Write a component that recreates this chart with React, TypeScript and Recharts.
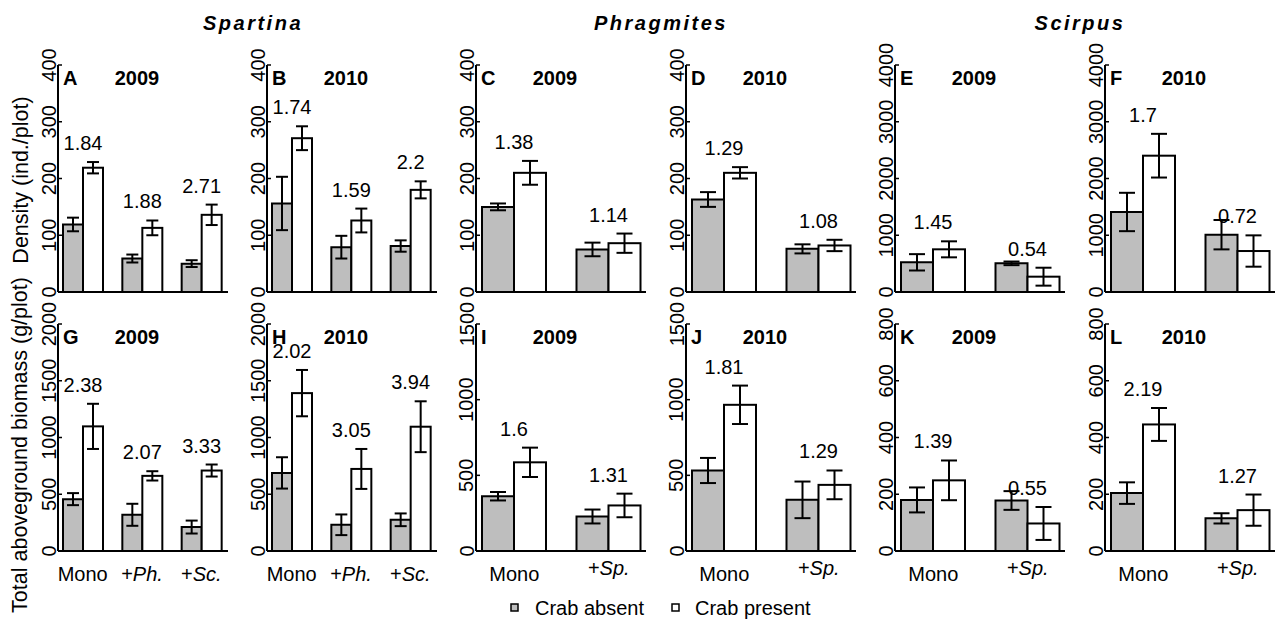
import React from "react";
import { BarChart, Bar, XAxis, YAxis, ErrorBar } from "recharts";

const FONT = "'Liberation Sans', Arial, Helvetica, sans-serif";

// ---------- categories ----------
const spartinaGroups = ["Mono", "+Ph.", "+Sc."];
const otherGroups = ["Mono", "+Sp."];

// ---------- tick labels ----------
const ticks400 = [0, 100, 200, 300, 400];
const ticks4000 = [0, 1000, 2000, 3000, 4000];
const ticks2000 = [0, 500, 1000, 1500, 2000];
const ticks1500 = [0, 500, 1000, 1500];
const ticks800 = [0, 200, 400, 600, 800];

// ---------- Density (top row) ----------
// A: Spartina 2009
const aAbsent = [119, 59, 50];
const aAbsentSE = [12, 7, 6];
const aPresent = [219, 113, 136];
const aPresentSE = [10, 13, 18];
const aRatio = ["1.84", "1.88", "2.71"];
// B: Spartina 2010
const bAbsent = [156, 79, 81];
const bAbsentSE = [47, 20, 10];
const bPresent = [271, 126, 180];
const bPresentSE = [21, 21, 15];
const bRatio = ["1.74", "1.59", "2.2"];
// C: Phragmites 2009
const cAbsent = [150, 75];
const cAbsentSE = [6, 12];
const cPresent = [210, 86];
const cPresentSE = [21, 17];
const cRatio = ["1.38", "1.14"];
// D: Phragmites 2010
const dAbsent = [163, 76];
const dAbsentSE = [13, 8];
const dPresent = [210, 82];
const dPresentSE = [10, 10];
const dRatio = ["1.29", "1.08"];
// E: Scirpus 2009
const eAbsent = [523, 505];
const eAbsentSE = [144, 32];
const ePresent = [752, 270];
const ePresentSE = [141, 158];
const eRatio = ["1.45", "0.54"];
// F: Scirpus 2010
const fAbsent = [1410, 1010];
const fAbsentSE = [338, 259];
const fPresent = [2402, 722];
const fPresentSE = [385, 276];
const fRatio = ["1.7", "0.72"];

// ---------- Biomass (bottom row) ----------
// G: Spartina 2009
const gAbsent = [457, 319, 211];
const gAbsentSE = [53, 97, 57];
const gPresent = [1098, 662, 709];
const gPresentSE = [199, 41, 53];
const gRatio = ["2.38", "2.07", "3.33"];
// H: Spartina 2010
const hAbsent = [688, 231, 275];
const hAbsentSE = [138, 91, 56];
const hPresent = [1391, 723, 1095];
const hPresentSE = [204, 176, 224];
const hRatio = ["2.02", "3.05", "3.94"];
// I: Phragmites 2009
const iAbsent = [362, 228];
const iAbsentSE = [28, 46];
const iPresent = [586, 301];
const iPresentSE = [97, 78];
const iRatio = ["1.6", "1.31"];
// J: Phragmites 2010
const jAbsent = [532, 338];
const jAbsentSE = [83, 121];
const jPresent = [966, 437];
const jPresentSE = [127, 95];
const jRatio = ["1.81", "1.29"];
// K: Scirpus 2009
const kAbsent = [180, 178];
const kAbsentSE = [44, 33];
const kPresent = [249, 97];
const kPresentSE = [70, 58];
const kRatio = ["1.39", "0.55"];
// L: Scirpus 2010
const lAbsent = [204, 115];
const lAbsentSE = [38, 18];
const lPresent = [446, 144];
const lPresentSE = [58, 55];
const lRatio = ["2.19", "1.27"];

const panelLetters = ["A", "B", "C", "D", "E", "F", "G", "H", "I", "J", "K", "L"];
const panelYears = ["2009", "2010", "2009", "2010", "2009", "2010", "2009", "2010", "2009", "2010", "2009", "2010"];
const speciesTitles = ["Spartina", "Phragmites", "Scirpus"];
const legendLabels = ["Crab absent", "Crab present"];

// ---------- layout ----------
const COL_LEFTS = [58, 267, 476, 686, 895, 1105];
const ROW_TOPS = [65, 324];
const BOX_W = 170;
const BOX_H = 227;
const ML = 50;
const MT = 22;
const MR = 6;
const MB = 50;
const CW = ML + BOX_W + MR;
const CH = MT + BOX_H + MB;
const AX = { stroke: "#000", strokeWidth: 2 };
const GREY = "#bebebe";
const Y_TICK_MARGIN = 2.5;

type Cfg = {
  groups: string[];
  absent: number[];
  absentSE: number[];
  present: number[];
  presentSE: number[];
  ratio: string[];
  ticks: number[];
  col: number;
  row: number;
};

const panels: Cfg[] = [
  { groups: spartinaGroups, absent: aAbsent, absentSE: aAbsentSE, present: aPresent, presentSE: aPresentSE, ratio: aRatio, ticks: ticks400, col: 0, row: 0 },
  { groups: spartinaGroups, absent: bAbsent, absentSE: bAbsentSE, present: bPresent, presentSE: bPresentSE, ratio: bRatio, ticks: ticks400, col: 1, row: 0 },
  { groups: otherGroups, absent: cAbsent, absentSE: cAbsentSE, present: cPresent, presentSE: cPresentSE, ratio: cRatio, ticks: ticks400, col: 2, row: 0 },
  { groups: otherGroups, absent: dAbsent, absentSE: dAbsentSE, present: dPresent, presentSE: dPresentSE, ratio: dRatio, ticks: ticks400, col: 3, row: 0 },
  { groups: otherGroups, absent: eAbsent, absentSE: eAbsentSE, present: ePresent, presentSE: ePresentSE, ratio: eRatio, ticks: ticks4000, col: 4, row: 0 },
  { groups: otherGroups, absent: fAbsent, absentSE: fAbsentSE, present: fPresent, presentSE: fPresentSE, ratio: fRatio, ticks: ticks4000, col: 5, row: 0 },
  { groups: spartinaGroups, absent: gAbsent, absentSE: gAbsentSE, present: gPresent, presentSE: gPresentSE, ratio: gRatio, ticks: ticks2000, col: 0, row: 1 },
  { groups: spartinaGroups, absent: hAbsent, absentSE: hAbsentSE, present: hPresent, presentSE: hPresentSE, ratio: hRatio, ticks: ticks2000, col: 1, row: 1 },
  { groups: otherGroups, absent: iAbsent, absentSE: iAbsentSE, present: iPresent, presentSE: iPresentSE, ratio: iRatio, ticks: ticks1500, col: 2, row: 1 },
  { groups: otherGroups, absent: jAbsent, absentSE: jAbsentSE, present: jPresent, presentSE: jPresentSE, ratio: jRatio, ticks: ticks1500, col: 3, row: 1 },
  { groups: otherGroups, absent: kAbsent, absentSE: kAbsentSE, present: kPresent, presentSE: kPresentSE, ratio: kRatio, ticks: ticks800, col: 4, row: 1 },
  { groups: otherGroups, absent: lAbsent, absentSE: lAbsentSE, present: lPresent, presentSE: lPresentSE, ratio: lRatio, ticks: ticks800, col: 5, row: 1 },
];

const YTick = (p: any) => {
  const x = p.x;
  const y = p.y;
  const axisX = x + Y_TICK_MARGIN;
  return (
    <g>
      <line x1={axisX} x2={axisX + 4} y1={y} y2={y} stroke="#000" strokeWidth={1.5} />
      <text
        x={x}
        y={y}
        transform={`rotate(-90 ${x} ${y})`}
        textAnchor="middle"
        fontSize={20}
        fontFamily={FONT}
        fill="#000"
      >
        {p.payload.value}
      </text>
    </g>
  );
};

const XTick = (p: any) => {
  const v: string = p.payload.value;
  const isSp = v === "+Sp.";
  const y = p.y + (isSp ? 24 : 30);
  if (v === "Mono") {
    return (
      <text x={p.x} y={y} textAnchor="middle" fontSize={20} fontFamily={FONT} fill="#000">
        Mono
      </text>
    );
  }
  return (
    <text x={p.x} y={y} textAnchor="middle" fontSize={20} fontFamily={FONT} fill="#000">
      <tspan>+</tspan>
      <tspan fontStyle="italic">{v.slice(1)}</tspan>
    </text>
  );
};

const makePresentShape = (pxPerUnit: number) => (p: any) => {
  const errTop = p.y - p.payload.presentSE * pxPerUnit;
  return (
    <g>
      <rect x={p.x} y={p.y} width={p.width} height={p.height} fill="#fff" stroke="#000" strokeWidth={2} />
      <text x={p.x} y={errTop - 12} textAnchor="middle" fontSize={20} fontFamily={FONT} fill="#000">
        {p.payload.ratio}
      </text>
    </g>
  );
};

function Panel({ cfg }: { cfg: Cfg }) {
  const { groups, absent, absentSE, present, presentSE, ratio, ticks, col, row } = cfg;
  const yMax = ticks[ticks.length - 1];
  const data = groups.map((g, i) => ({
    g,
    absent: absent[i],
    absentSE: absentSE[i],
    present: present[i],
    presentSE: presentSE[i],
    ratio: ratio[i],
  }));
  const three = groups.length === 3;
  const pad = three ? { left: -5, right: -3 } : { left: -9, right: -10 };
  const pxPerUnit = BOX_H / yMax;
  const whisker = three ? 6 : 8;
  return (
    <div style={{ position: "absolute", left: COL_LEFTS[col] - ML, top: ROW_TOPS[row] - MT }}>
      <BarChart
        width={CW}
        height={CH}
        data={data}
        margin={{ top: MT, right: MR, bottom: 0, left: 0 }}
        barGap={0}
        barSize={three ? 20 : 32}
      >
        <XAxis
          dataKey="g"
          height={MB}
          padding={pad}
          tickLine={false}
          tickSize={0}
          tickMargin={0}
          axisLine={AX}
          tick={row === 1 ? XTick : false}
          interval={0}
        />
        <XAxis
          xAxisId="t"
          dataKey="g"
          orientation="top"
          height={0}
          padding={pad}
          tick={false}
          tickLine={false}
          axisLine={AX}
        />
        <YAxis
          type="number"
          domain={[0, yMax]}
          ticks={ticks}
          width={ML}
          tickLine={false}
          tickSize={0}
          tickMargin={Y_TICK_MARGIN}
          axisLine={AX}
          tick={YTick}
          interval={0}
        />
        <YAxis
          yAxisId="r"
          orientation="right"
          type="number"
          domain={[0, yMax]}
          width={0}
          tick={false}
          tickLine={false}
          axisLine={AX}
        />
        <Bar dataKey="absent" fill={GREY} stroke="#000" strokeWidth={2} isAnimationActive={false}>
          <ErrorBar dataKey="absentSE" width={whisker} stroke="#000" strokeWidth={2} direction="y" />
        </Bar>
        <Bar dataKey="present" fill="#fff" stroke="#000" strokeWidth={2} isAnimationActive={false} shape={makePresentShape(pxPerUnit)}>
          <ErrorBar dataKey="presentSE" width={whisker} stroke="#000" strokeWidth={2} direction="y" />
        </Bar>
      </BarChart>
    </div>
  );
}

function Overlay() {
  const titleX = [253, 661, 1080];
  return (
    <svg
      width={1280}
      height={619}
      style={{ position: "absolute", left: 0, top: 0, pointerEvents: "none" }}
      fontFamily={FONT}
    >
      {speciesTitles.map((t, i) => (
        <text
          key={t}
          x={titleX[i]}
          y={30}
          textAnchor="middle"
          fontSize={20}
          fontWeight="bold"
          fontStyle="italic"
          letterSpacing={2.5}
          fill="#000"
        >
          {t}
        </text>
      ))}
      {panels.map((p, i) => (
        <g key={panelLetters[i]}>
          <text x={COL_LEFTS[p.col] + 5} y={ROW_TOPS[p.row] + 20} fontSize={20} fontWeight="bold" fill="#000">
            {panelLetters[i]}
          </text>
          <text
            x={COL_LEFTS[p.col] + 79}
            y={ROW_TOPS[p.row] + 20}
            textAnchor="middle"
            fontSize={20}
            fontWeight="bold"
            fill="#000"
          >
            {panelYears[i]}
          </text>
        </g>
      ))}
      <text x={28} y={180} transform="rotate(-90 28 180)" textAnchor="middle" fontSize={21.5} fill="#000">
        Density (ind./plot)
      </text>
      <text x={27} y={445} transform="rotate(-90 27 445)" textAnchor="middle" fontSize={21.5} fill="#000">
        Total aboveground biomass (g/plot)
      </text>
      <rect x={511} y={604} width={7} height={7} fill={GREY} stroke="#000" strokeWidth={1.5} />
      <text x={535} y={615} fontSize={20} fill="#000">
        {legendLabels[0]}
      </text>
      <rect x={672} y={604} width={7} height={7} fill="#fff" stroke="#000" strokeWidth={1.5} />
      <text x={695} y={615} fontSize={20} fill="#000">
        {legendLabels[1]}
      </text>
    </svg>
  );
}

export default function App() {
  return (
    <div
      style={{
        position: "absolute",
        left: 0,
        top: 0,
        width: 1280,
        height: 619,
        background: "#fff",
        overflow: "hidden",
        fontFamily: FONT,
      }}
    >
      {panels.map((p, i) => (
        <Panel key={panelLetters[i]} cfg={p} />
      ))}
      <Overlay />
    </div>
  );
}
